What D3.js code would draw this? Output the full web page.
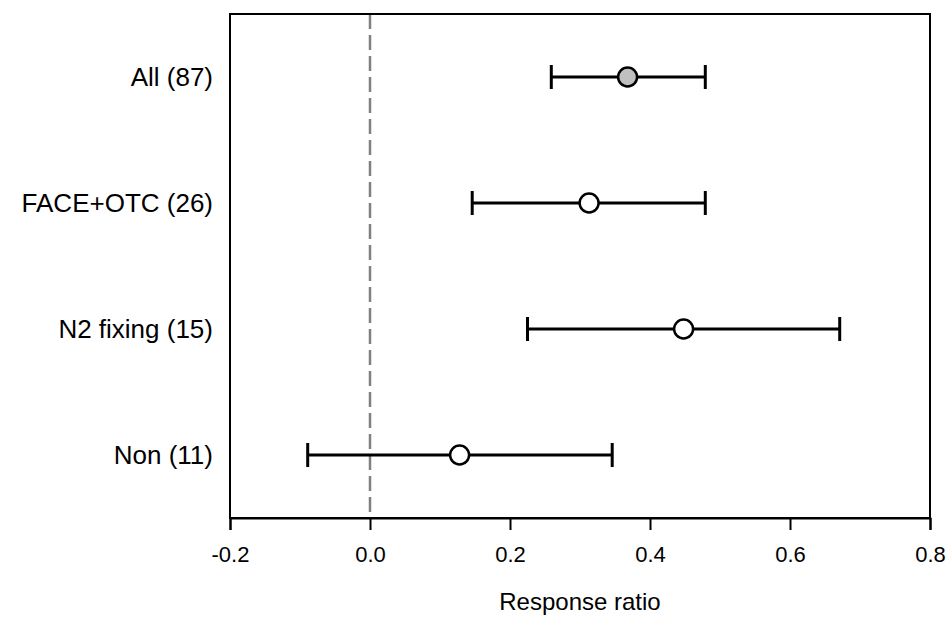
<!DOCTYPE html>
<html>
<head>
<meta charset="utf-8">
<script src="https://cdn.jsdelivr.net/npm/d3@7"></script>
<style>
  body { margin: 0; background: #fff; }
  svg text { font-family: "Liberation Sans", Arial, sans-serif; fill: #000; }
</style>
</head>
<body>
<svg id="chart" width="949" height="617"></svg>
<script>
const categories = ["All (87)", "FACE+OTC (26)", "N2 fixing (15)", "Non (11)"];
const means = [0.368, 0.313, 0.448, 0.128];
const lower = [0.259, 0.146, 0.225, -0.089];
const upper = [0.479, 0.479, 0.671, 0.346];
const filled = [true, false, false, false];
const xTicks = [-0.2, 0.0, 0.2, 0.4, 0.6, 0.8];

const svg = d3.select("#chart");
const margin = { left: 230, right: 19, top: 14, bottom: 99 };
const width = 949, height = 617;

const x = d3.scaleLinear()
  .domain([-0.2, 0.8])
  .range([margin.left, width - margin.right]);

const y = d3.scalePoint()
  .domain(categories)
  .range([margin.top, height - margin.bottom])
  .padding(0.5);

const rows = categories.map((c, i) => ({
  cat: c, mean: means[i], lo: lower[i], hi: upper[i], filled: filled[i]
}));

// zero reference line
svg.append("line")
  .attr("x1", x(0)).attr("x2", x(0))
  .attr("y1", margin.top).attr("y2", height - margin.bottom)
  .attr("stroke", "#808080")
  .attr("stroke-width", 2.5)
  .attr("stroke-dasharray", "15,6");

// frame
svg.append("rect")
  .attr("x", margin.left).attr("y", margin.top)
  .attr("width", width - margin.left - margin.right)
  .attr("height", height - margin.top - margin.bottom)
  .attr("fill", "none")
  .attr("stroke", "#000")
  .attr("stroke-width", 2);

// x axis
const xAxis = svg.append("g")
  .attr("transform", `translate(0, ${height - margin.bottom})`)
  .call(d3.axisBottom(x).tickValues(xTicks).tickFormat(d => d.toFixed(1)).tickSize(12).tickPadding(16));
xAxis.select(".domain").attr("stroke-width", 2);
xAxis.selectAll(".tick line").attr("stroke-width", 2);
xAxis.selectAll(".tick text").attr("font-size", 22).style("font-family", "'Liberation Sans', Arial, sans-serif");

// y category labels
svg.selectAll(".ylab")
  .data(rows)
  .enter().append("text")
  .attr("class", "ylab")
  .attr("x", margin.left - 17)
  .attr("y", d => y(d.cat))
  .attr("text-anchor", "end")
  .attr("dominant-baseline", "central")
  .attr("font-size", 26)
  .text(d => d.cat);

// error bars
const bars = svg.selectAll(".bar")
  .data(rows)
  .enter().append("g")
  .attr("class", "bar");

bars.append("line")
  .attr("x1", d => x(d.lo)).attr("x2", d => x(d.hi))
  .attr("y1", d => y(d.cat)).attr("y2", d => y(d.cat))
  .attr("stroke", "#000").attr("stroke-width", 3);

bars.append("line")
  .attr("x1", d => x(d.lo)).attr("x2", d => x(d.lo))
  .attr("y1", d => y(d.cat) - 12).attr("y2", d => y(d.cat) + 12)
  .attr("stroke", "#000").attr("stroke-width", 3);

bars.append("line")
  .attr("x1", d => x(d.hi)).attr("x2", d => x(d.hi))
  .attr("y1", d => y(d.cat) - 12).attr("y2", d => y(d.cat) + 12)
  .attr("stroke", "#000").attr("stroke-width", 3);

bars.append("circle")
  .attr("cx", d => x(d.mean))
  .attr("cy", d => y(d.cat))
  .attr("r", 9.5)
  .attr("fill", d => d.filled ? "#c0c0c0" : "#fff")
  .attr("stroke", "#000")
  .attr("stroke-width", 2.5);

// axis title
svg.append("text")
  .attr("x", (x(-0.2) + x(0.8)) / 2)
  .attr("y", 601)
  .attr("text-anchor", "middle")
  .attr("dominant-baseline", "central")
  .attr("font-size", 24)
  .text("Response ratio");
</script>
</body>
</html>
